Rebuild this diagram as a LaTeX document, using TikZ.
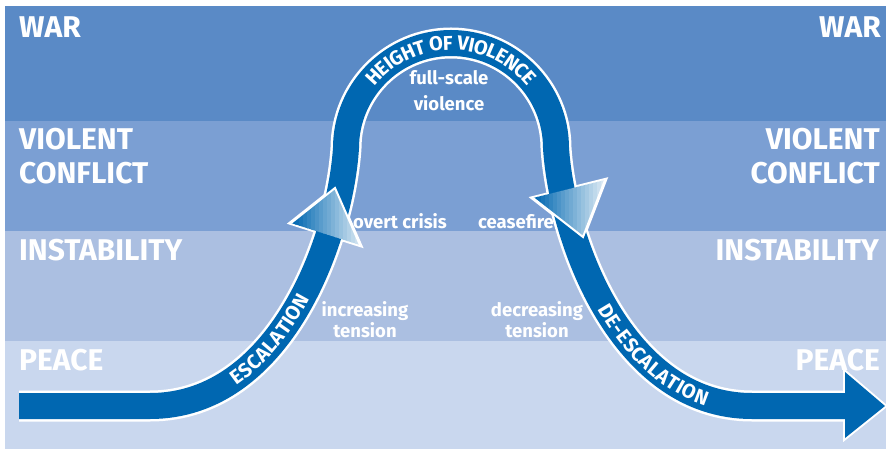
\documentclass[tikz,border=0pt]{standalone}
\usepackage{fontspec}
\setmainfont{Fira Sans}
\usetikzlibrary{decorations.text}

\definecolor{war band}{HTML}{5A8AC6}
\definecolor{conflict band}{HTML}{7B9FD3}
\definecolor{instability band}{HTML}{ABBFE1}
\definecolor{peace band}{HTML}{C9D7EE}
\definecolor{arrow blue}{HTML}{0067B1}
\colorlet{head light}{white!85!arrow blue}

\newcommand\bandfont{\fontsize{30}{34}\selectfont\bfseries}
\newcommand\notefont{\fontsize{18.5}{21}\selectfont\bfseries}
\newcommand\pathfont{\fontsize{20}{20}\selectfont\bfseries\color{white}}

\def\mainpath{(19,406) -- (150,406) .. controls (280,406) and (340,240) .. (346,148)
  arc[start angle=180, end angle=360, radius=105]
  .. controls (562,240) and (622,406) .. (752,406) -- (848,406)}
\def\uphead{(291,223) -- (335,188) -- (360,245) -- cycle}
\def\downhead{(533,198) -- (583,237) -- (605,180) -- cycle}
\def\endhead{(845,372) -- (885,406) -- (845,438) -- cycle}

\tikzset{band label/.style={text=white, font=\bandfont, inner sep=0pt},
    note/.style={text=white, font=\notefont, inner sep=0pt, align=center},
    shaft edge/.style={draw=white, line width=31pt},
    shaft/.style={draw=arrow blue, line width=26pt}}

\begin{document}
\begin{tikzpicture}[x=1pt, y=-1pt]
  \useasboundingbox (0,0) rectangle (886,449);
  % bands
  \fill[war band] (5,6) rectangle (886,121);
  \fill[conflict band] (5,121) rectangle (886,231);
  \fill[instability band] (5,231) rectangle (886,341);
  \fill[peace band] (5,341) rectangle (886,449);

  \node[band label, anchor=base west] (war l) at (19,38) {WAR};
  \node[band label, anchor=base east] (war r) at (881,38) {WAR};
  \node[band label, anchor=north west, align=left] (conflict l) at (19,128) {VIOLENT\\CONFLICT};
  \node[band label, anchor=north east, align=right] (conflict r) at (880,128) {VIOLENT\\CONFLICT};
  \node[band label, anchor=base west] (instab l) at (19,260) {INSTABILITY};
  \node[band label, anchor=base east] (instab r) at (879,260) {INSTABILITY};
  \node[band label, anchor=base west] (peace l) at (19,370) {PEACE};
  \node[band label, anchor=base east] (peace r) at (880,370) {PEACE};

  % the arrow
  \draw[shaft edge] \mainpath;
  \draw[white, line width=4pt] \uphead \downhead;
  \draw[white, fill=white, line width=4pt] \endhead;
  \draw[shaft] \mainpath;
  \fill[arrow blue] \endhead;
  % blue to light, left to right, inside the two heads
  \begin{scope}
    \clip \uphead;
    \foreach \i in {0,...,17} {
      \pgfmathtruncatemacro\mix{\i*100/17}
      \fill[head light!\mix!arrow blue] ({291+4*\i},180) rectangle ({296+4*\i},250);
    }
  \end{scope}
  \begin{scope}
    \clip \downhead;
    \foreach \i in {0,...,17} {
      \pgfmathtruncatemacro\mix{\i*100/17}
      \fill[head light!\mix!arrow blue] ({533+4*\i},175) rectangle ({538+4*\i},245);
    }
  \end{scope}
  \draw[white, line width=2pt] (291,223) -- (335,188) -- (360,245);
  \draw[white, line width=2pt] (533,198) -- (583,237) -- (605,180);

  % words on the arrow
  \path[decorate, decoration={text along path, text={|\pathfont|ESCALATION},
      text align={left indent=88pt}, raise=-7pt}]
    (150,406) .. controls (280,406) and (340,240) .. (346,148);
  \path[decorate, decoration={text along path, text={|\pathfont|HEIGHT OF VIOLENCE},
      text align=center, raise=-7pt}]
    (346,148) arc[start angle=180, end angle=360, radius=105];
  \path[decorate, decoration={text along path, text={|\pathfont|DE-ESCALATION},
      text align={left indent=166pt}, raise=-7pt}]
    (556,148) .. controls (562,240) and (622,406) .. (752,406);

  \node[note, anchor=base] (fullscale) at (449,111) {full-scale\\[5pt]violence};
  \node[note, anchor=base] (overt) at (400,229) {overt crisis};
  \node[note, anchor=base] (cease) at (516,229) {ceasefire};
  \node[note, anchor=base] (incr) at (365,337) {increasing\\tension};
  \node[note, anchor=base] (decr) at (537,337) {decreasing\\tension};
\end{tikzpicture}
\end{document}
